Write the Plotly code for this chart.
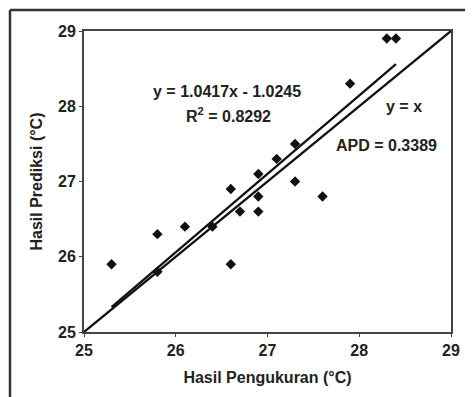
import plotly.graph_objects as go

measured = [25.3, 25.8, 25.8, 26.1, 26.4, 26.6, 26.6, 26.7, 26.9, 26.9, 26.9, 27.1, 27.3, 27.3, 27.6, 27.9, 28.3, 28.4]
predicted = [25.9, 26.3, 25.8, 26.4, 26.4, 26.9, 25.9, 26.6, 27.1, 26.8, 26.6, 27.3, 27.5, 27.0, 26.8, 28.3, 28.9, 28.9]
slope = 1.0417
intercept = -1.0245
axis_range = [25, 29]
tick_vals = [25, 26, 27, 28, 29]

fit_x = [min(measured), max(measured)]
fit_y = [slope * v + intercept for v in fit_x]

FAM = "Liberation Sans, Arial"
font = dict(family=FAM, size=16, color="#222", weight="bold")
tfont = dict(family=FAM, size=16, color="#222", weight="bold")

fig = go.Figure()
fig.add_trace(go.Scatter(x=axis_range, y=axis_range, mode="lines",
                         line=dict(color="#111", width=2.3), showlegend=False))
fig.add_trace(go.Scatter(x=fit_x, y=fit_y, mode="lines",
                         line=dict(color="#111", width=2.3), showlegend=False))
fig.add_trace(go.Scatter(x=measured, y=predicted, mode="markers",
                         marker=dict(symbol="diamond", size=8, color="#111"),
                         showlegend=False))

ann = [
    (26.56, 28.2, "y = 1.0417x - 1.0245"),
    (26.58, 27.88, "R<sup>2</sup> = 0.8292"),
    (28.49, 28.0, "y = x"),
    (28.3, 27.48, "APD = 0.3389"),
]
for x, y, t in ann:
    fig.add_annotation(x=x, y=y, text=t, showarrow=False, font=font)

# outer frame
fig.add_shape(type="line", xref="paper", yref="paper", x0=-0.2016, x1=-0.2016,
              y0=1.0698, y1=-0.3, line=dict(color="#333", width=2.5))
fig.add_shape(type="line", xref="paper", yref="paper", x0=-0.2016, x1=1.1,
              y0=1.0698, y1=1.0698, line=dict(color="#333", width=2.5))

axis_common = dict(range=axis_range, tickvals=tick_vals, showgrid=False, zeroline=False,
                   showline=True, linecolor="#444", linewidth=2, mirror=True,
                   ticks="outside", ticklen=3, tickcolor="#444", tickfont=tfont)

fig.update_xaxes(**axis_common, title=dict(text="Hasil Pengukuran (°C)", font=font, standoff=14))
fig.update_yaxes(**axis_common, title=dict(text="Hasil Prediksi (°C)", font=font, standoff=11))

fig.update_layout(width=473, height=397, margin=dict(l=76, r=30, t=23, b=73, autoexpand=False),
                  plot_bgcolor="white", paper_bgcolor="white")
fig.write_html("out.html")
